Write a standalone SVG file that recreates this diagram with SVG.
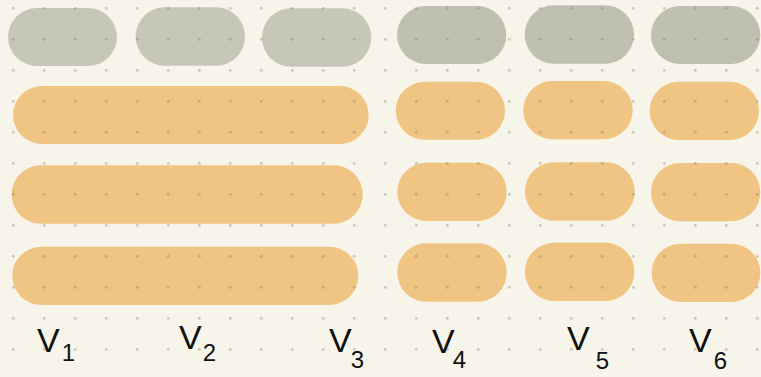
<svg xmlns="http://www.w3.org/2000/svg" width="761" height="377" viewBox="0 0 761 377">
<defs>
<style>
.g1{fill:#c6c6b9}
.g2{fill:#bfbfb2}
.o{fill:#f0c482}
.lb{font-family:"Liberation Sans","DejaVu Sans",sans-serif;fill:#111;font-size:34px}
.sb{font-size:24px}
</style>
<pattern id="dots" x="0" y="0" width="31" height="31" patternUnits="userSpaceOnUse">
<circle cx="13.3" cy="8.3" r="1.5" fill="#6e6a5a" fill-opacity="0.3"/>
</pattern>
</defs>
<rect width="761" height="377" fill="#f7f5e9"/>
<g id="top-row">
<g id="t1"><rect class="g1" x="8" y="8" width="109" height="58" rx="29"/></g>
<g id="t2"><rect class="g1" x="135.7" y="7.3" width="109.3" height="58.4" rx="29"/></g>
<g id="t3"><rect class="g1" x="262" y="8.3" width="109.3" height="58.4" rx="29"/></g>
<g id="t4"><rect class="g2" x="397" y="6" width="109.3" height="58" rx="29"/></g>
<g id="t5"><rect class="g2" x="524.7" y="5.3" width="109.3" height="58.4" rx="29"/></g>
<g id="t6"><rect class="g2" x="651" y="6" width="109.3" height="58" rx="29"/></g>
</g>
<g id="row1">
<g id="r1-long"><rect class="o" x="13" y="86" width="355.7" height="58" rx="29"/></g>
<g id="r1-4"><rect class="o" x="395.7" y="81.7" width="109.3" height="58" rx="29"/></g>
<g id="r1-5"><rect class="o" x="523.3" y="81" width="109.4" height="58.3" rx="29"/></g>
<g id="r1-6"><rect class="o" x="649.7" y="81.7" width="109.3" height="58.3" rx="29"/></g>
</g>
<g id="row2">
<g id="r2-long"><rect class="o" x="11.7" y="165.3" width="351" height="58.4" rx="29"/></g>
<g id="r2-4"><rect class="o" x="397.3" y="162.7" width="109.4" height="58.3" rx="29"/></g>
<g id="r2-5"><rect class="o" x="525" y="162.3" width="109.7" height="58.4" rx="29"/></g>
<g id="r2-6"><rect class="o" x="651" y="163" width="109.3" height="58.3" rx="29"/></g>
</g>
<g id="row3">
<g id="r3-long"><rect class="o" x="12.3" y="246.7" width="346" height="58.3" rx="29"/></g>
<g id="r3-4"><rect class="o" x="397.3" y="243.3" width="109.4" height="58.4" rx="29"/></g>
<g id="r3-5"><rect class="o" x="525" y="242.7" width="109.3" height="58.3" rx="29"/></g>
<g id="r3-6"><rect class="o" x="651.7" y="243.7" width="108.6" height="58.3" rx="29"/></g>
</g>
<rect width="761" height="377" fill="url(#dots)"/>
<g id="labels">
<text class="lb" x="37" y="352">V<tspan class="sb" dx="2" dy="9">1</tspan></text>
<text class="lb" x="179" y="349">V<tspan class="sb" dx="1" dy="12">2</tspan></text>
<text class="lb" x="329" y="352">V<tspan class="sb" dx="-1" dy="16">3</tspan></text>
<text class="lb" x="432" y="353">V<tspan class="sb" dx="-2" dy="15">4</tspan></text>
<text class="lb" x="567" y="350">V<tspan class="sb" dx="6" dy="19">5</tspan></text>
<text class="lb" x="689" y="352">V<tspan class="sb" dx="2" dy="17">6</tspan></text>
</g>
</svg>
